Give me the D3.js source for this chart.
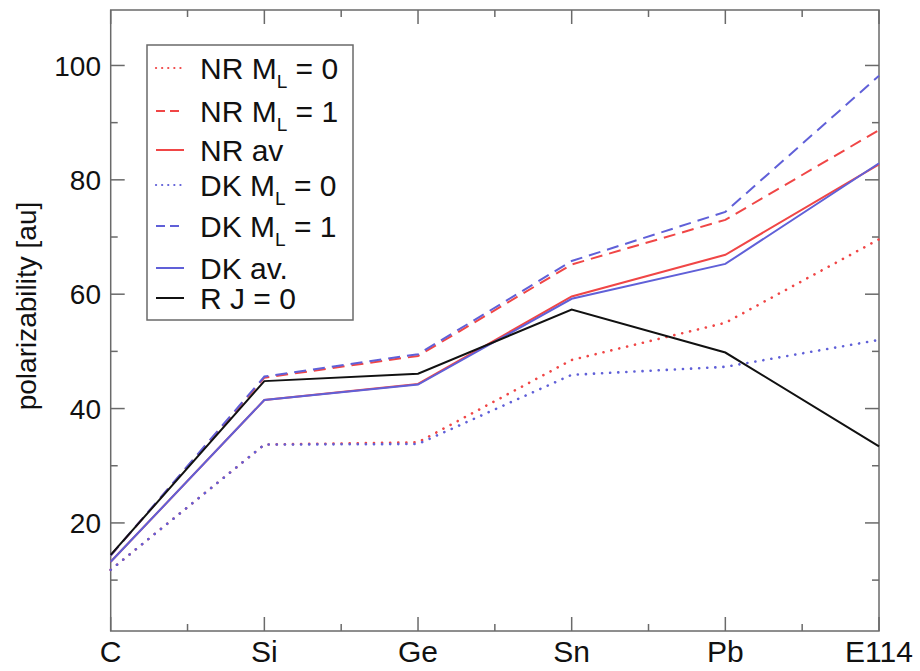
<!DOCTYPE html>
<html><head><meta charset="utf-8">
<script src="https://cdn.jsdelivr.net/npm/d3@7"></script>
<style>body{margin:0;background:#fff}svg{display:block}text{font-family:"Liberation Sans",Arial,sans-serif}</style>
</head><body><svg id="c" width="920" height="671"></svg>
<script>
const categories = ["C","Si","Ge","Sn","Pb","E114"];
const yTicks = [20,40,60,80,100];
const nrM0 = [11.8, 33.7, 34.1, 48.5, 55.0, 69.6];
const nrM1 = [14.3, 45.4, 49.2, 65.2, 73.0, 88.7];
const nrAv = [13.2, 41.5, 44.3, 59.6, 66.9, 82.7];
const dkM0 = [11.8, 33.7, 33.8, 45.9, 47.3, 52.0];
const dkM1 = [14.3, 45.6, 49.5, 65.8, 74.4, 98.2];
const dkAv = [13.2, 41.5, 44.2, 59.2, 65.3, 82.9];
const rJ0  = [14.4, 44.8, 46.1, 57.3, 49.8, 33.4];
const seriesNames = ["NR M|L| = 0","NR M|L| = 1","NR av","DK M|L| = 0","DK M|L| = 1","DK av.","R J = 0"];

const RED = "#f04646", BLUE = "#6060d8", BLACK = "#111";
const series = [
  {name: seriesNames[0], values: nrM0, color: RED, dash: "0.1,8", cap: "round"},
  {name: seriesNames[1], values: nrM1, color: RED, dash: "12,7"},
  {name: seriesNames[2], values: nrAv, color: RED, dash: null},
  {name: seriesNames[3], values: dkM0, color: BLUE, dash: "0.1,8", cap: "round"},
  {name: seriesNames[4], values: dkM1, color: BLUE, dash: "12,7"},
  {name: seriesNames[5], values: dkAv, color: BLUE, dash: null},
  {name: seriesNames[6], values: rJ0, color: BLACK, dash: null}
];

const svg = d3.select("#c");
const L = 110.7, R = 879, T = 10, B = 631;
const x = d3.scalePoint().domain(categories).range([L, R]);
const y = d3.scaleLinear().domain([1.1, 109.7]).range([B, T]);
const axisColor = "#6a6a6a";

// frame
svg.append("rect").attr("x", L).attr("y", T).attr("width", R - L).attr("height", B - T)
  .attr("fill", "none").attr("stroke", axisColor).attr("stroke-width", 1.5);

// y ticks
const yMinor = d3.range(10, 110, 20);
const gy = svg.append("g");
yTicks.forEach(v => {
  gy.append("line").attr("x1", L).attr("x2", L + 14).attr("y1", y(v)).attr("y2", y(v)).attr("stroke", axisColor).attr("stroke-width", 1.5);
  gy.append("line").attr("x1", R).attr("x2", R - 14).attr("y1", y(v)).attr("y2", y(v)).attr("stroke", axisColor).attr("stroke-width", 1.5);
  gy.append("text").attr("x", 101).attr("y", y(v)).attr("dy", "0.36em").attr("text-anchor", "end")
    .attr("font-size", 28).attr("fill", "#111").text(v);
});
yMinor.forEach(v => {
  gy.append("line").attr("x1", L).attr("x2", L + 7).attr("y1", y(v)).attr("y2", y(v)).attr("stroke", axisColor).attr("stroke-width", 1.5);
  gy.append("line").attr("x1", R).attr("x2", R - 7).attr("y1", y(v)).attr("y2", y(v)).attr("stroke", axisColor).attr("stroke-width", 1.5);
});
// x ticks
const gx = svg.append("g");
categories.forEach((c, i) => {
  const px = x(c);
  gx.append("line").attr("x1", px).attr("x2", px).attr("y1", B).attr("y2", B - 14).attr("stroke", axisColor).attr("stroke-width", 1.5);
  gx.append("line").attr("x1", px).attr("x2", px).attr("y1", T).attr("y2", T + 14).attr("stroke", axisColor).attr("stroke-width", 1.5);
  gx.append("text").attr("x", px).attr("y", 662).attr("text-anchor", "middle")
    .attr("font-size", 30).attr("fill", "#111").text(c);
  if (i < categories.length - 1) {
    const mx = (px + x(categories[i + 1])) / 2;
    gx.append("line").attr("x1", mx).attr("x2", mx).attr("y1", B).attr("y2", B - 7).attr("stroke", axisColor).attr("stroke-width", 1.5);
    gx.append("line").attr("x1", mx).attr("x2", mx).attr("y1", T).attr("y2", T + 7).attr("stroke", axisColor).attr("stroke-width", 1.5);
  }
});

// y label
svg.append("text").attr("transform", "translate(36,306) rotate(-90)").attr("text-anchor", "middle")
  .attr("font-size", 28).attr("fill", "#111").text("polarizability [au]");

// lines
const line = d3.line().x((d, i) => x(categories[i])).y(d => y(d));
series.forEach(s => {
  svg.append("path").attr("d", line(s.values)).attr("fill", "none")
    .attr("stroke", s.color).attr("stroke-width", s.cap ? 2.6 : 2)
    .attr("stroke-dasharray", s.dash).attr("stroke-linecap", s.cap || "butt");
});

// legend
const lg = svg.append("g");
lg.append("rect").attr("x", 147).attr("y", 45).attr("width", 206).attr("height", 275)
  .attr("fill", "#fff").attr("stroke", axisColor).attr("stroke-width", 1.5);
const rowY = [68, 111, 150, 185, 226, 268, 298];
series.forEach((s, i) => {
  const ry = rowY[i];
  lg.append("line").attr("x1", 156).attr("x2", 184).attr("y1", ry).attr("y2", ry)
    .attr("stroke", s.color).attr("stroke-width", s.cap ? 2.2 : 2)
    .attr("stroke-dasharray", s.dash === "12,7" ? "9,5" : (s.dash ? "0.1,6" : null)).attr("stroke-linecap", s.cap || "butt");
  const t = lg.append("text").attr("x", 200).attr("y", ry).attr("dy", "0.36em").attr("font-size", 30).attr("fill", "#111");
  const parts = s.name.split("|");
  if (parts.length === 3) {
    t.append("tspan").text(parts[0]);
    t.append("tspan").attr("font-size", 19).attr("dy", 9).text(parts[1]);
    t.append("tspan").attr("dy", -9).text(parts[2]);
  } else {
    t.text(s.name);
  }
});
</script></body></html>
